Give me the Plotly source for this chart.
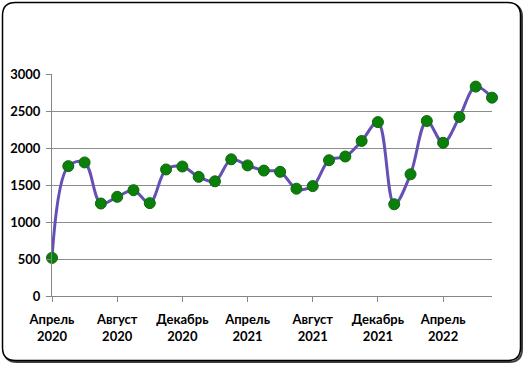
import plotly.graph_objects as go

months = ["Апр 2020", "Май 2020", "Июн 2020", "Июл 2020", "Авг 2020", "Сен 2020",
          "Окт 2020", "Ноя 2020", "Дек 2020", "Янв 2021", "Фев 2021", "Мар 2021",
          "Апр 2021", "Май 2021", "Июн 2021", "Июл 2021", "Авг 2021", "Сен 2021",
          "Окт 2021", "Ноя 2021", "Дек 2021", "Янв 2022", "Фев 2022", "Мар 2022",
          "Апр 2022", "Май 2022", "Июн 2022", "Июл 2022"]
values = [515, 1755, 1805, 1250, 1340, 1430, 1255, 1710, 1750, 1610, 1550, 1847,
          1765, 1695, 1678, 1450, 1485, 1835, 1885, 2095, 2350, 1240, 1645, 2365,
          2070, 2420, 2830, 2680]
tick_pos = [0, 4, 8, 12, 16, 20, 24]
tick_labels = ["Апрель<br>2020", "Август<br>2020", "Декабрь<br>2020", "Апрель<br>2021",
               "Август<br>2021", "Декабрь<br>2021", "Апрель<br>2022"]

x_idx = list(range(len(months)))

fig = go.Figure()
fig.add_trace(go.Scatter(
    x=x_idx, y=values, mode="lines+markers",
    line=dict(color="#6650B4", width=3, shape="spline", smoothing=1.0),
    marker=dict(color="#0A800A", size=11, line=dict(color="#0A6A0A", width=1)),
    cliponaxis=False, hovertext=months, hoverinfo="text+y",
))

W, H = 525, 365
L, R, T, B = 52, 33, 74, 69
pw, ph = W - L - R, H - T - B

def px(x):
    return (x - L) / pw

def py(y):
    return (H - B - y) / ph

def rrect(x0, y0, x1, y1, r):
    pts = [
        f"M {px(x0 + r)},{py(y0)}",
        f"L {px(x1 - r)},{py(y0)}",
        f"Q {px(x1)},{py(y0)} {px(x1)},{py(y0 + r)}",
        f"L {px(x1)},{py(y1 - r)}",
        f"Q {px(x1)},{py(y1)} {px(x1 - r)},{py(y1)}",
        f"L {px(x0 + r)},{py(y1)}",
        f"Q {px(x0)},{py(y1)} {px(x0)},{py(y1 - r)}",
        f"L {px(x0)},{py(y0 + r)}",
        f"Q {px(x0)},{py(y0)} {px(x0 + r)},{py(y0)}",
        "Z",
    ]
    return " ".join(pts)

shapes = [
    dict(type="path", xref="paper", yref="paper", path=rrect(4, 4, 522, 362, 13),
         line=dict(color="#404040", width=2), layer="below"),
    dict(type="path", xref="paper", yref="paper", path=rrect(2.5, 2.5, 520.5, 360.5, 13),
         line=dict(color="black", width=1.5), fillcolor="white", layer="below"),
]

tf = dict(family="Lato", size=13, color="black", weight="bold")

fig.update_layout(
    width=W, height=H,
    margin=dict(l=L, r=R, t=T, b=B, autoexpand=False),
    paper_bgcolor="white", plot_bgcolor="rgba(0,0,0,0)",
    showlegend=False,
    font=dict(family="Lato, 'Open Sans', sans-serif", size=13, color="black"),
    shapes=shapes,
    xaxis=dict(
        range=[0, len(months) - 1], tickmode="array", tickvals=tick_pos, ticktext=tick_labels,
        showgrid=False, zeroline=False, showline=True, linecolor="#868686", linewidth=1,
        ticks="outside", ticklen=5, tickcolor="#868686", ticklabelstandoff=6,
        tickfont=tf, fixedrange=True, automargin=False,
    ),
    yaxis=dict(
        range=[0, 3000], dtick=500, tick0=0,
        showgrid=True, gridcolor="#8C8C8C", gridwidth=1,
        zeroline=False, showline=True, linecolor="#868686", linewidth=1,
        ticks="outside", ticklen=5, tickcolor="#868686", ticklabelstandoff=3,
        tickfont=tf, fixedrange=True, automargin=False,
    ),
)

fig.write_html("out.html", config={"displayModeBar": False},
               post_script="document.body.style.margin='0';document.body.style.overflow='hidden';")
